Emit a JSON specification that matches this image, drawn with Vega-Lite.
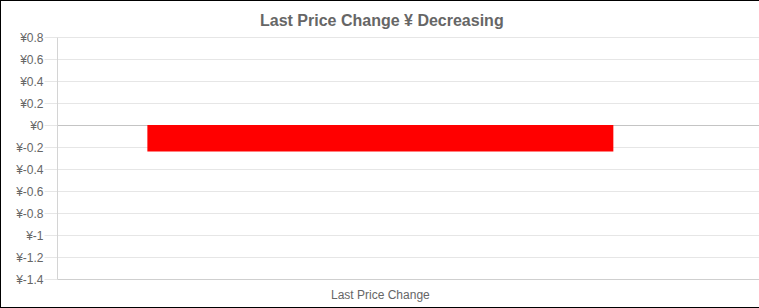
{
  "$schema": "https://vega.github.io/schema/vega-lite/v6.json",
  "width": 765,
  "height": 308,
  "autosize": {"type": "none"},
  "padding": {"left": 0, "top": 0, "right": -6, "bottom": 0},
  "background": "#ffffff",
  "title": {
    "text": "Last Price Change ¥ Decreasing",
    "anchor": "start",
    "frame": "group",
    "baseline": "alphabetic",
    "offset": -42,
    "dx": 260,
    "fontSize": 16,
    "font": "Liberation Sans",
    "fontWeight": "bold",
    "color": "#666666"
  },
  "data": {"values": [{"label": "Last Price Change", "value": -0.24}]},
  "mark": {"type": "bar", "color": "#ff0000"},
  "encoding": {
    "x": {
      "field": "label",
      "type": "nominal",
      "title": null,
      "scale": {"range": [57, 765], "paddingInner": 0, "paddingOuter": 0.2597, "align": 0.3734},
      "axis": {
        "orient": "bottom",
        "offset": -29,
        "ticks": false,
        "grid": false,
        "labelAngle": 0,
        "labelPadding": 10,
        "labelFont": "Liberation Sans",
        "labelFontSize": 12,
        "labelColor": "#666666",
        "domainColor": "#cfcfcf",
        "domainWidth": 1
      }
    },
    "y": {
      "field": "value",
      "type": "quantitative",
      "title": null,
      "scale": {"domain": [-1.4, 0.8], "range": [279, 37], "nice": false, "zero": false},
      "axis": {
        "orient": "left",
        "offset": -57,
        "values": [-1.4, -1.2, -1, -0.8, -0.6, -0.4, -0.2, 0, 0.2, 0.4, 0.6, 0.8],
        "labelExpr": "'¥' + datum.value",
        "labelFont": "Liberation Sans",
        "labelFontSize": 12,
        "labelColor": "#666666",
        "labelPadding": 1,
        "tickSize": 13,
        "tickColor": "#e6e6e6",
        "domainColor": "#d4d4d4",
        "grid": true,
        "gridColor": {"condition": {"test": "datum.value === 0", "value": "#c4c4c4"}, "value": "#e6e6e6"}
      }
    }
  },
  "config": {
    "view": {"stroke": "#000000", "strokeWidth": 2}
  }
}
